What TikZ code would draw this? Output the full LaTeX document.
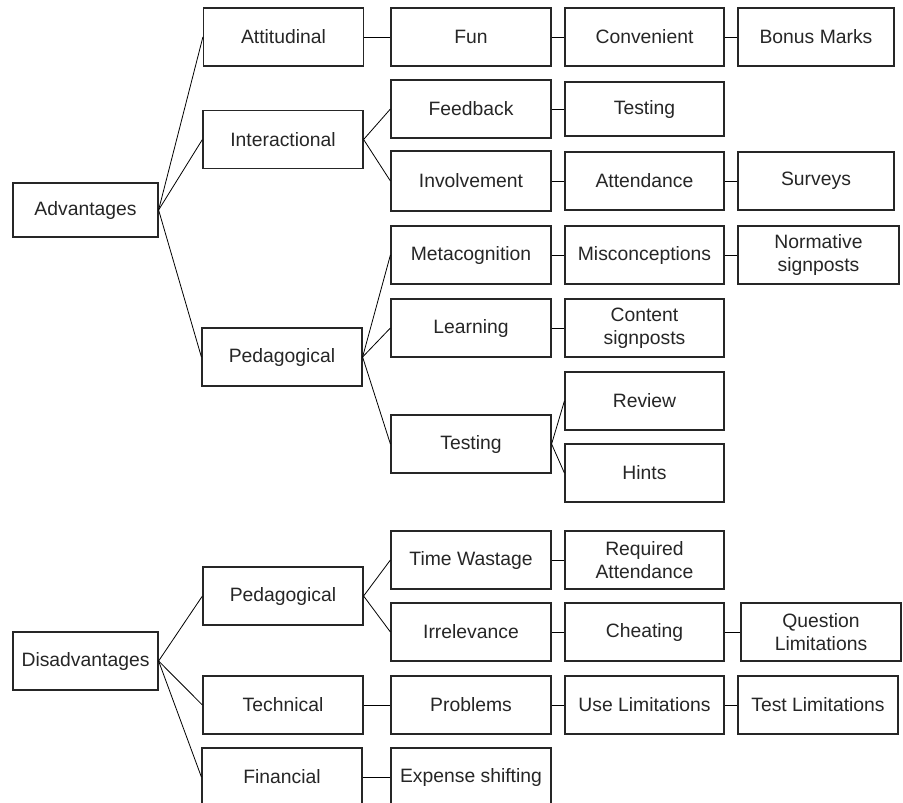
\documentclass[tikz,border=0pt]{standalone}
\usepackage{fontspec}
\setmainfont{Liberation Sans}
\begin{document}
\begin{tikzpicture}[x=0.75pt,y=-0.75pt,
	cell/.style={draw=black!85,line width=0.9pt,rectangle,inner sep=0pt,
		minimum width=120pt,minimum height=43.5pt,align=center,
		text=black!85,font=\fontsize{14.5}{17}\selectfont},
	link/.style={draw=black,line width=0.6pt}]
				\clip (0,0) rectangle (903,803);
				\fill [white] (0,0) rectangle (903,803);
				% roots
				\node [cell,minimum width=108.75pt,minimum height=40.5pt] (adv) at (85.5,210) {Advantages};
				\node [cell,minimum width=108.75pt] (dis) at (85.5,661) {Disadvantages};
				% second column
				\node [cell] (att) at (283.5,37) {Attitudinal};
				\node [cell] (inter) at (283,139.5) {Interactional};
				\node [cell] (pedA) at (282,357) {Pedagogical};
				\node [cell] (pedD) at (283,596) {Pedagogical};
				\node [cell] (tech) at (283,705) {Technical};
				\node [cell] (fin) at (282,777) {Financial};
				% third column
				\node [cell] (fun) at (471,37) {Fun};
				\node [cell] (feed) at (471,109) {Feedback};
				\node [cell,minimum height=45pt] (inv) at (471,181) {Involvement};
				\node [cell] (meta) at (471,255) {Metacognition};
				\node [cell] (learn) at (471,328) {Learning};
				\node [cell] (testA) at (471,444) {Testing};
				\node [cell] (time) at (471,560) {Time Wastage};
				\node [cell] (irr) at (471,632) {Irrelevance};
				\node [cell] (prob) at (471,705) {Problems};
				\node [cell] (exp) at (471,777) {Expense shifting};
				% fourth column
				\node [cell,minimum width=119.25pt] (conv) at (644.5,37) {Convenient};
				\node [cell,minimum width=119.25pt,minimum height=40.5pt] (testB) at (644.5,109) {Testing};
				\node [cell,minimum width=119.25pt] (attend) at (644.5,181) {Attendance};
				\node [cell,minimum width=119.25pt] (misc) at (644.5,255) {Misconceptions};
				\node [cell,minimum width=119.25pt] (cont) at (644.5,328) {Content\\signposts};
				\node [cell,minimum width=119.25pt] (rev) at (644.5,401) {Review};
				\node [cell,minimum width=119.25pt] (hint) at (644.5,473) {Hints};
				\node [cell,minimum width=119.25pt] (req) at (644.5,560) {Required\\Attendance};
				\node [cell,minimum width=119.25pt] (cheat) at (644.5,632) {Cheating};
				\node [cell,minimum width=119.25pt] (use) at (644.5,705) {Use Limitations};
				% fifth column
				\node [cell,minimum width=117pt] (bonus) at (816,37) {Bonus Marks};
				\node [cell,minimum width=117pt] (surv) at (816,181) {Surveys};
				\node [cell,minimum width=120.75pt] (norm) at (818.5,255) {Normative\\signposts};
				\node [cell] (quest) at (821,632) {Question\\Limitations};
				\node [cell] (tlim) at (818,705) {Test Limitations};
				% connectors
				\draw [link] (adv.east) -- (att.west);
				\draw [link] (adv.east) -- (inter.west);
				\draw [link] (adv.east) -- (pedA.west);
				\draw [link] (att.east) -- (fun.west);
				\draw [link] (fun.east) -- (conv.west);
				\draw [link] (conv.east) -- (bonus.west);
				\draw [link] (inter.east) -- (feed.west);
				\draw [link] (inter.east) -- (inv.west);
				\draw [link] (feed.east) -- (testB.west);
				\draw [link] (inv.east) -- (attend.west);
				\draw [link] (attend.east) -- (surv.west);
				\draw [link] (pedA.east) -- (meta.west);
				\draw [link] (pedA.east) -- (learn.west);
				\draw [link] (pedA.east) -- (testA.west);
				\draw [link] (meta.east) -- (misc.west);
				\draw [link] (misc.east) -- (norm.west);
				\draw [link] (learn.east) -- (cont.west);
				\draw [link] (testA.east) -- (rev.west);
				\draw [link] (testA.east) -- (hint.west);
				\draw [link] (dis.east) -- (pedD.west);
				\draw [link] (dis.east) -- (tech.west);
				\draw [link] (dis.east) -- (fin.west);
				\draw [link] (pedD.east) -- (time.west);
				\draw [link] (pedD.east) -- (irr.west);
				\draw [link] (time.east) -- (req.west);
				\draw [link] (irr.east) -- (cheat.west);
				\draw [link] (cheat.east) -- (quest.west);
				\draw [link] (tech.east) -- (prob.west);
				\draw [link] (prob.east) -- (use.west);
				\draw [link] (use.east) -- (tlim.west);
				\draw [link] (fin.east) -- (exp.west);
			\end{tikzpicture}
\end{document}
